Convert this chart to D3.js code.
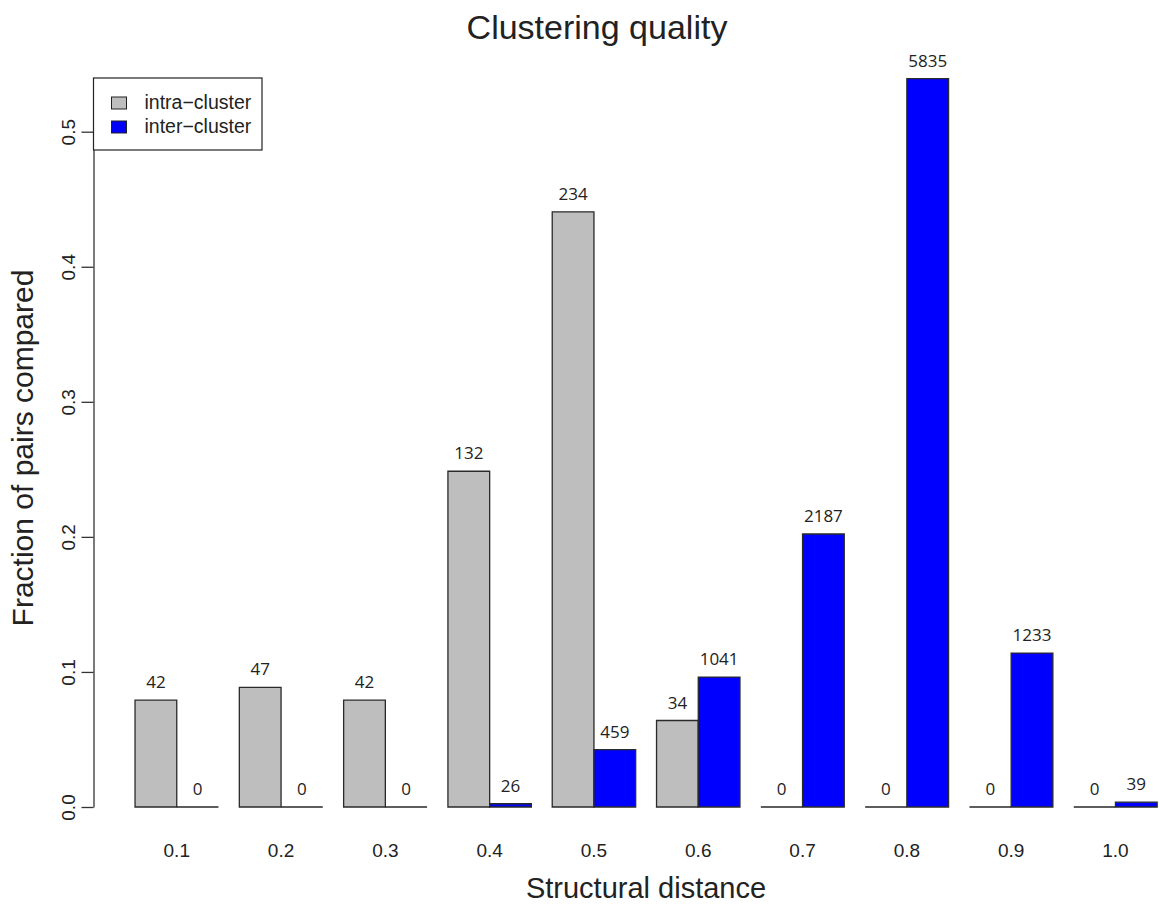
<!DOCTYPE html>
<html>
<head>
<meta charset="utf-8">
<script src="https://cdn.jsdelivr.net/npm/d3@7"></script>
<style>
  body { margin: 0; background: #fff; }
  svg text { font-family: "Liberation Sans", Arial, sans-serif; fill: #222; }
</style>
</head>
<body>
<div id="chart"></div>
<script>
// data
const distances = ["0.1", "0.2", "0.3", "0.4", "0.5", "0.6", "0.7", "0.8", "0.9", "1.0"];
const intraCounts = [42, 47, 42, 132, 234, 34, 0, 0, 0, 0];
const interCounts = [0, 0, 0, 26, 459, 1041, 2187, 5835, 1233, 39];
const seriesNames = ["intra-cluster", "inter-cluster"];
const seriesColors = ["#bebebe", "#0000ff"];
const yTicks = [0, 0.1, 0.2, 0.3, 0.4, 0.5];

const width = 1159;
const height = 905;

const svg = d3.select("#chart")
  .append("svg")
  .attr("width", width)
  .attr("height", height);

// fraction of pairs = count / total of that series
const intraTotal = d3.sum(intraCounts);
const interTotal = d3.sum(interCounts);
const rows = distances.map((d, i) => ({
  dist: d,
  bars: [
    { key: seriesNames[0], count: intraCounts[i], frac: intraCounts[i] / intraTotal, color: seriesColors[0] },
    { key: seriesNames[1], count: interCounts[i], frac: interCounts[i] / interTotal, color: seriesColors[1] }
  ]
}));

// scales
const x0 = d3.scaleBand()
  .domain(distances)
  .range([124.6, 1167.6])
  .paddingInner(0.2)
  .paddingOuter(0.1);

const x1 = d3.scaleBand()
  .domain(seriesNames)
  .range([0, x0.bandwidth()]);

const y = d3.scaleLinear()
  .domain([0, 0.5])
  .range([807, 131.7]);

// bars (paths so that zero-height bars still show as a line)
const groups = svg.append("g")
  .selectAll("g")
  .data(rows)
  .join("g")
  .attr("transform", d => `translate(${x0(d.dist)},0)`);

groups.selectAll("path")
  .data(d => d.bars)
  .join("path")
  .attr("d", d => {
    const bx = x1(d.key), bw = x1.bandwidth();
    const top = y(d.frac), base = y(0);
    return `M${bx},${base}V${top}H${bx + bw}V${base}Z`;
  })
  .attr("fill", d => d.color)
  .attr("stroke", "#2a2a2a")
  .attr("stroke-width", 1.3);

// count labels above bars
groups.selectAll("text")
  .data(d => d.bars)
  .join("text")
  .attr("x", d => x1(d.key) + x1.bandwidth() / 2)
  .attr("y", d => y(d.frac) - 12)
  .attr("text-anchor", "middle")
  .style("font-family", "'Open Sans', sans-serif")
  .style("font-size", "17px")
  .text(d => d.count);

// y axis, R style
const yAxis = svg.append("g")
  .attr("transform", "translate(93.5,0)")
  .call(d3.axisLeft(y).tickValues(yTicks).tickFormat(d3.format(".1f")).tickSize(12).tickSizeOuter(0));
yAxis.select(".domain").attr("stroke", "#333").attr("stroke-width", 1.3);
yAxis.selectAll(".tick line").attr("stroke", "#333").attr("stroke-width", 1.3);
yAxis.selectAll(".tick text")
  .attr("x", 0).attr("y", 0).attr("dy", null)
  .attr("transform", "translate(-19,0) rotate(-90)")
  .attr("text-anchor", "middle")
  .style("font-size", "19px")
  .style("font-family", "'Liberation Sans', Arial, sans-serif")
  .attr("fill", "#222");

// x labels, no axis line
const xAxis = svg.append("g")
  .attr("transform", "translate(0,807)")
  .call(d3.axisBottom(x0).tickSize(0));
xAxis.select(".domain").remove();
xAxis.selectAll(".tick text")
  .attr("y", 50).attr("dy", null)
  .style("font-size", "19px")
  .style("font-family", "'Liberation Sans', Arial, sans-serif")
  .attr("fill", "#222");

// titles
svg.append("text")
  .attr("x", 597).attr("y", 39)
  .attr("text-anchor", "middle")
  .style("font-size", "34px")
  .text("Clustering quality");

svg.append("text")
  .attr("x", 646).attr("y", 898)
  .attr("text-anchor", "middle")
  .style("font-size", "29px")
  .text("Structural distance");

svg.append("text")
  .attr("transform", "translate(33,448) rotate(-90)")
  .attr("text-anchor", "middle")
  .style("font-size", "30px")
  .text("Fraction of pairs compared");

// legend
const legend = svg.append("g").attr("transform", "translate(93.5,78)");
legend.append("rect")
  .attr("width", 168.5).attr("height", 72)
  .attr("fill", "#fff").attr("stroke", "#222").attr("stroke-width", 1.2);
const li = legend.selectAll("g.item")
  .data(seriesNames)
  .join("g")
  .attr("class", "item")
  .attr("transform", (d, i) => `translate(0,${19 + i * 24})`);
li.append("rect")
  .attr("x", 18).attr("width", 15).attr("height", 12)
  .attr("fill", (d, i) => seriesColors[i])
  .attr("stroke", "#222").attr("stroke-width", 1);
li.append("text")
  .attr("x", 51).attr("y", 12)
  .style("font-size", "19.5px")
  .text(d => d.replace("-", "\u2212"));
</script>
</body>
</html>
